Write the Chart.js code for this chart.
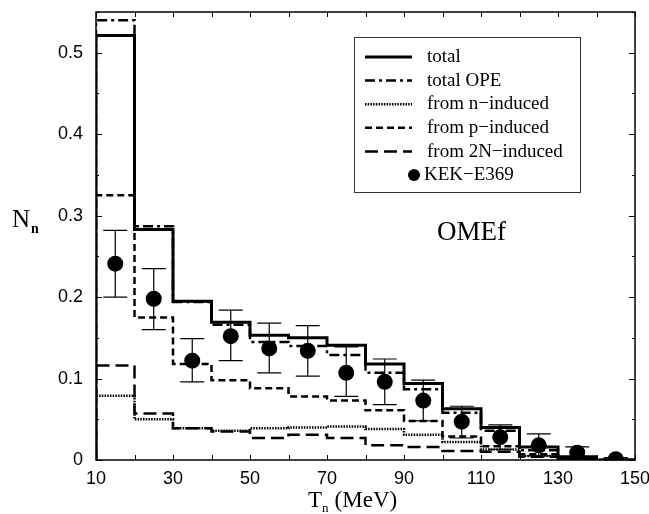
<!DOCTYPE html>
<html>
<head>
<meta charset="utf-8">
<script src="https://cdn.jsdelivr.net/npm/chart.js@4.4.0/dist/chart.umd.min.js"></script>
<style>
html,body{margin:0;padding:0;background:#fff}
#wrap{position:relative;width:649px;height:514px;overflow:hidden}
.t{position:absolute;font-family:"Liberation Serif","Times New Roman",serif;color:#000;line-height:1;white-space:nowrap}
#leg{position:absolute;left:354px;top:37px;width:225px;height:154px;border:1px solid #333;background:#fff}
#leg svg{position:absolute;left:0;top:0}
</style>
</head>
<body>
<div id="wrap">
  <canvas id="c" width="649" height="514"></canvas>
  <div class="t" style="left:12px;top:206px;font-size:25px">N<span style="font-size:14px;font-weight:bold;position:relative;top:6px;margin-left:1px">n</span></div>
  <div class="t" style="left:437px;top:218px;font-size:27px">OMEf</div>
  <div class="t" style="left:308px;top:488px;font-size:23px">T<span style="font-size:13px;position:relative;top:5px;margin-right:6px">n</span>(MeV)</div>
  <div id="leg"></div>
</div>
<script>
// bin edges of the histograms (MeV)
const binEdges=[10,20,30,40,50,60,70,80,90,100,110,120,130,140,150];
// one value per bin
const total   =[0.521,0.283,0.195,0.169,0.153,0.150,0.141,0.118,0.094,0.063,0.040,0.016,0.004,0.000];
const totalOPE=[0.540,0.287,0.194,0.166,0.145,0.140,0.129,0.107,0.087,0.058,0.036,0.012,0.003,0.000];
const nInduced=[0.079,0.050,0.039,0.036,0.039,0.040,0.041,0.038,0.031,0.022,0.013,0.005,0.001,0.000];
const pInduced=[0.325,0.175,0.118,0.098,0.088,0.078,0.073,0.061,0.048,0.029,0.017,0.007,0.002,0.000];
const twoNInduced=[0.116,0.057,0.039,0.035,0.027,0.031,0.027,0.018,0.016,0.011,0.010,0.004,0.001,0.000];
// KEK-E369 data
const dataX   =[15,25,35,45,55,65,75,85,95,105,115,125,135,145];
const dataY   =[0.241,0.198,0.122,0.152,0.137,0.134,0.107,0.096,0.073,0.047,0.028,0.018,0.009,0.001];
const errLow  =[0.200,0.160,0.096,0.122,0.107,0.103,0.078,0.068,0.048,0.027,0.013,0.005,0.002,0.000];
const errHigh =[0.282,0.235,0.149,0.184,0.168,0.165,0.139,0.124,0.098,0.066,0.043,0.032,0.016,0.003];
const seriesNames=['total','total OPE','from n\u2212induced','from p\u2212induced','from 2N\u2212induced','KEK\u2212E369'];

const styles=[
  {w:3,dash:[]},
  {w:2.5,dash:[10,4,3,4]},
  {w:2.5,dash:[1.5,1.2]},
  {w:2.5,dash:[7,4]},
  {w:2.5,dash:[13,6]}
];

// histogram outline: rise from 0 at the first edge, then one step per bin
function steps(vals){
  const pts=[{x:binEdges[0],y:0}];
  binEdges.forEach((x,i)=>pts.push({x:x,y:vals[Math.min(i,vals.length-1)]}));
  return pts;
}

const histos=[total,totalOPE,nInduced,pInduced,twoNInduced];
const datasets=histos.map((v,i)=>({
  type:'line',label:seriesNames[i],data:steps(v),stepped:'before',
  borderColor:'#000',borderWidth:styles[i].w,borderDash:styles[i].dash,
  pointRadius:0,fill:false,borderCapStyle:'butt'
}));
datasets.push({
  type:'scatter',label:seriesNames[5],
  data:dataX.map((x,i)=>({x:x,y:dataY[i]})),
  pointRadius:8,pointBackgroundColor:'#000',pointBorderColor:'#000',pointBorderWidth:0
});

const frame={
  id:'frame',
  beforeDatasetsDraw(chart){
    const {ctx,scales:{x,y}}=chart;
    ctx.save();
    ctx.strokeStyle='#000';ctx.lineWidth=1.2;
    dataX.forEach((v,i)=>{
      const px=x.getPixelForValue(v),lo=y.getPixelForValue(errLow[i]),hi=y.getPixelForValue(errHigh[i]);
      ctx.beginPath();
      ctx.moveTo(px,lo);ctx.lineTo(px,hi);
      ctx.moveTo(px-12,lo);ctx.lineTo(px+12,lo);
      ctx.moveTo(px-12,hi);ctx.lineTo(px+12,hi);
      ctx.stroke();
    });
    ctx.restore();
  },
  afterDraw(chart){
    const {ctx,chartArea:a,scales:{x,y}}=chart;
    const seg=(x1,y1,x2,y2)=>{ctx.beginPath();ctx.moveTo(x1,y1);ctx.lineTo(x2,y2);ctx.stroke();};
    ctx.save();
    ctx.strokeStyle='#000';ctx.lineWidth=1.5;
    ctx.strokeRect(a.left,a.top,a.right-a.left,a.bottom-a.top);
    ctx.lineWidth=1;
    x.ticks.forEach(t=>{
      const p=Math.round(x.getPixelForValue(t.value))+0.5;
      seg(p,a.bottom,p,a.bottom-5);seg(p,a.top,p,a.top+5);
    });
    y.ticks.forEach(t=>{
      const L=Math.round(t.value*100)%10===0?6:3;
      const p=Math.round(y.getPixelForValue(t.value))+0.5;
      seg(a.left,p,a.left+L,p);seg(a.right,p,a.right-L,p);
    });
    ctx.restore();
  }
};

new Chart(document.getElementById('c'),{
  data:{datasets:datasets},
  options:{
    responsive:false,animation:false,
    layout:{padding:{top:12,right:14,left:0,bottom:0}},
    plugins:{legend:{display:false},tooltip:{enabled:false}},
    scales:{
      x:{
        type:'linear',min:10,max:150,
        grid:{display:false,drawTicks:false},border:{display:false},
        afterFit:s=>{s.height=54;s.paddingLeft=0;s.paddingRight=0;},
        ticks:{stepSize:10,autoSkip:false,maxRotation:0,padding:8,color:'#000',
          font:{family:'"Liberation Sans", Arial, sans-serif',size:18},
          callback:v=>((v-10)%20===0?String(v):'')}
      },
      y:{
        min:0,max:0.55,
        grid:{display:false,drawTicks:false},border:{display:false},
        afterFit:s=>{s.width=96;s.paddingTop=0;s.paddingBottom=0;},
        ticks:{stepSize:0.05,autoSkip:false,padding:13,color:'#000',
          font:{family:'"Liberation Sans", Arial, sans-serif',size:18},
          callback:v=>(Math.round(v*100)%10===0?(Math.round(v*100)===0?'0':v.toFixed(1)):'')}
      }
    }
  },
  plugins:[frame]
});

// legend box
const leg=document.getElementById('leg');
let svg='<svg width="225" height="154">';
let html='';
seriesNames.forEach((name,i)=>{
  const base=62+23.6*i-38;
  const ly=base-5;
  if(i<styles.length){
    svg+='<line x1="10" y1="'+ly+'" x2="57" y2="'+ly+'" stroke="#000" stroke-width="'+styles[i].w+'"'+
      (styles[i].dash.length?' stroke-dasharray="'+styles[i].dash.join(' ')+'"':'')+'/>';
    html+='<div class="t" style="left:72px;top:'+(base-15.9)+'px;font-size:19px">'+name+'</div>';
  }else{
    svg+='<circle cx="59" cy="'+ly+'" r="6" fill="#000"/>';
    html+='<div class="t" style="left:69px;top:'+(base-15.9)+'px;font-size:19px">'+name+'</div>';
  }
});
svg+='</svg>';
leg.innerHTML=svg+html;
</script>
</body>
</html>
